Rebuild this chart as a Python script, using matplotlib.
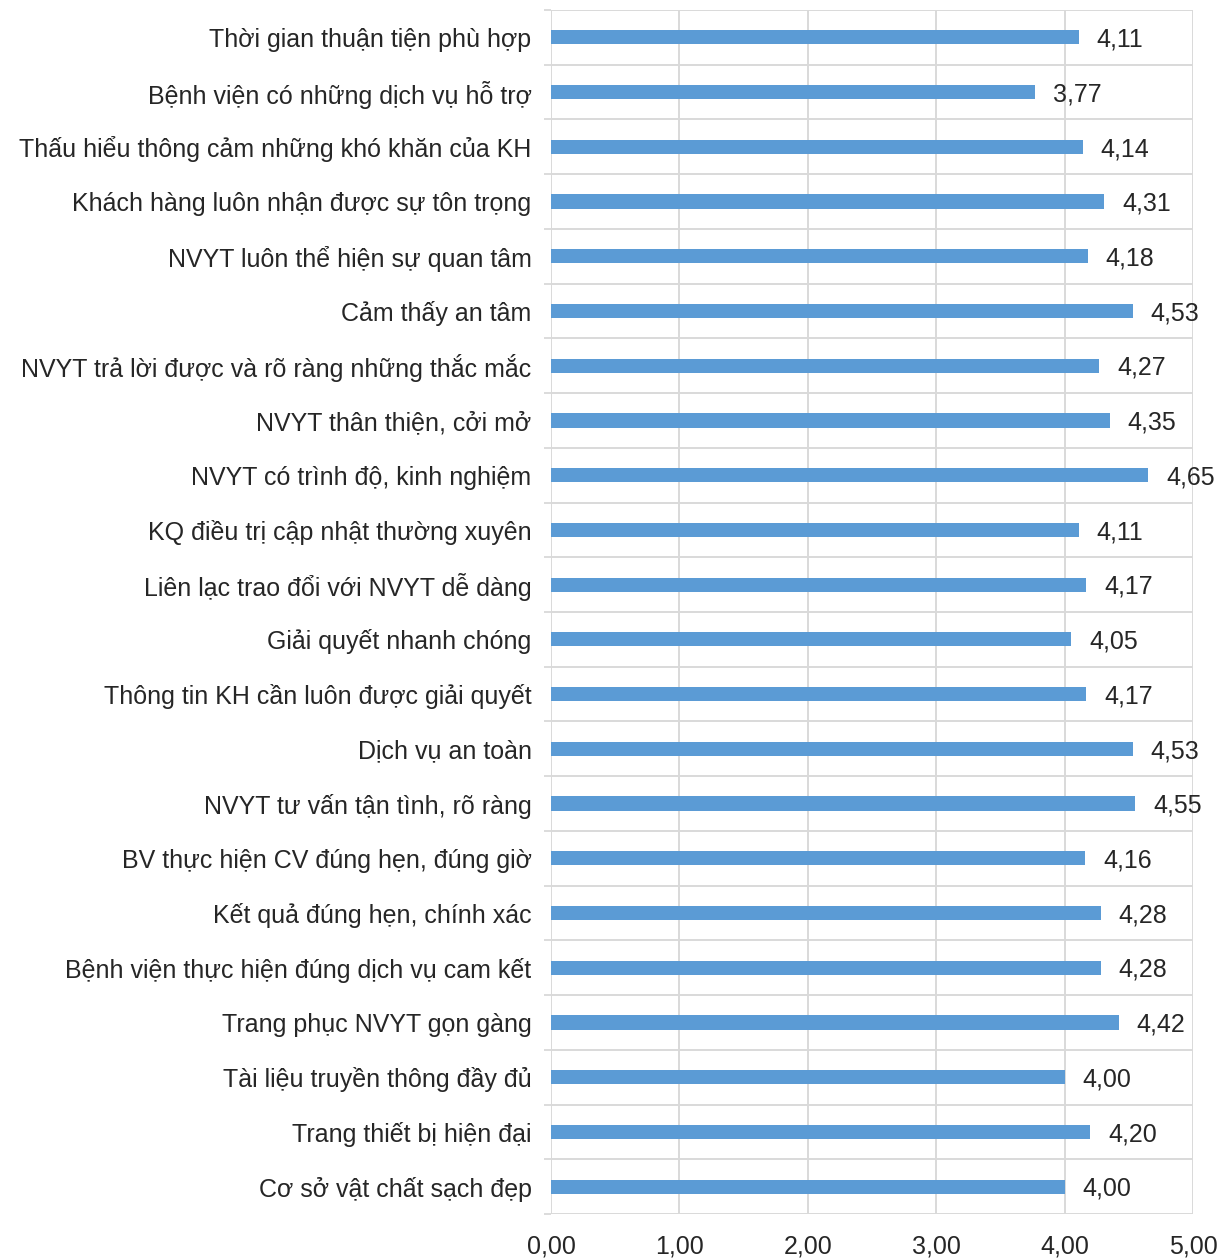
import matplotlib
matplotlib.use("Agg")
import matplotlib.pyplot as plt
import numpy as np

plt.rcParams['font.family'] = ['Liberation Sans', 'DejaVu Sans']

categories = [
    "Thời gian thuận tiện phù hợp",
    "Bệnh viện có những dịch vụ hỗ trợ",
    "Thấu hiểu thông cảm những khó khăn của KH",
    "Khách hàng luôn nhận được sự tôn trọng",
    "NVYT luôn thể hiện sự quan tâm",
    "Cảm thấy an tâm",
    "NVYT trả lời được và rõ ràng những thắc mắc",
    "NVYT thân thiện, cởi mở",
    "NVYT có trình độ, kinh nghiệm",
    "KQ điều trị cập nhật thường xuyên",
    "Liên lạc trao đổi với NVYT dễ dàng",
    "Giải quyết nhanh chóng",
    "Thông tin KH cần luôn được giải quyết",
    "Dịch vụ an toàn",
    "NVYT tư vấn tận tình, rõ ràng",
    "BV thực hiện CV đúng hẹn, đúng giờ",
    "Kết quả đúng hẹn, chính xác",
    "Bệnh viện thực hiện đúng dịch vụ cam kết",
    "Trang phục NVYT gọn gàng",
    "Tài liệu truyền thông đầy đủ",
    "Trang thiết bị hiện đại",
    "Cơ sở vật chất sạch đẹp",
]
values = [4.11, 3.77, 4.14, 4.31, 4.18, 4.53, 4.27, 4.35, 4.65, 4.11, 4.17,
          4.05, 4.17, 4.53, 4.55, 4.16, 4.28, 4.28, 4.42, 4.00, 4.20, 4.00]
xticks = [0, 1, 2, 3, 4, 5]

def fmt(v):
    return f"{v:.2f}".replace(".", ",")

FS = 18
TXT = '#262626'

fig = plt.figure(figsize=(12.3, 12.6), dpi=100)
ax = fig.add_axes([551/1230, 1 - 1214/1260, (1193-551)/1230, (1214-10)/1260])

n = len(categories)
y = np.arange(n)
ax.barh(y, values, height=0.26, color='#5B9BD5', zorder=3)
ax.set_ylim(n - 0.5, -0.5)
ax.set_xlim(0, 5)

for yi, v in zip(y, values):
    ax.text(v + 0.14, yi + 0.04, fmt(v), va='center', ha='left', fontsize=FS,
            color=TXT, clip_on=False)

ax.set_yticks(y)
ax.set_yticklabels(categories, fontsize=FS, color=TXT)
ax.set_yticks(np.arange(-0.5, n, 1), minor=True)
ax.tick_params(axis='y', which='major', length=0, pad=14)
ax.tick_params(axis='y', which='minor', length=5, color='#D9D9D9', width=1.3)

ax.set_xticks(xticks)
ax.set_xticklabels([fmt(t) for t in xticks], fontsize=FS, color=TXT)
ax.tick_params(axis='x', length=0, pad=15)

ax.grid(axis='x', which='major', color='#D9D9D9', linewidth=1.4, zorder=0)
ax.grid(axis='y', which='minor', color='#D9D9D9', linewidth=1.4, zorder=0)
ax.grid(axis='y', which='major', visible=False)
for s in ax.spines.values():
    s.set_visible(False)

fig.savefig("out.png", dpi=100, facecolor='white')
